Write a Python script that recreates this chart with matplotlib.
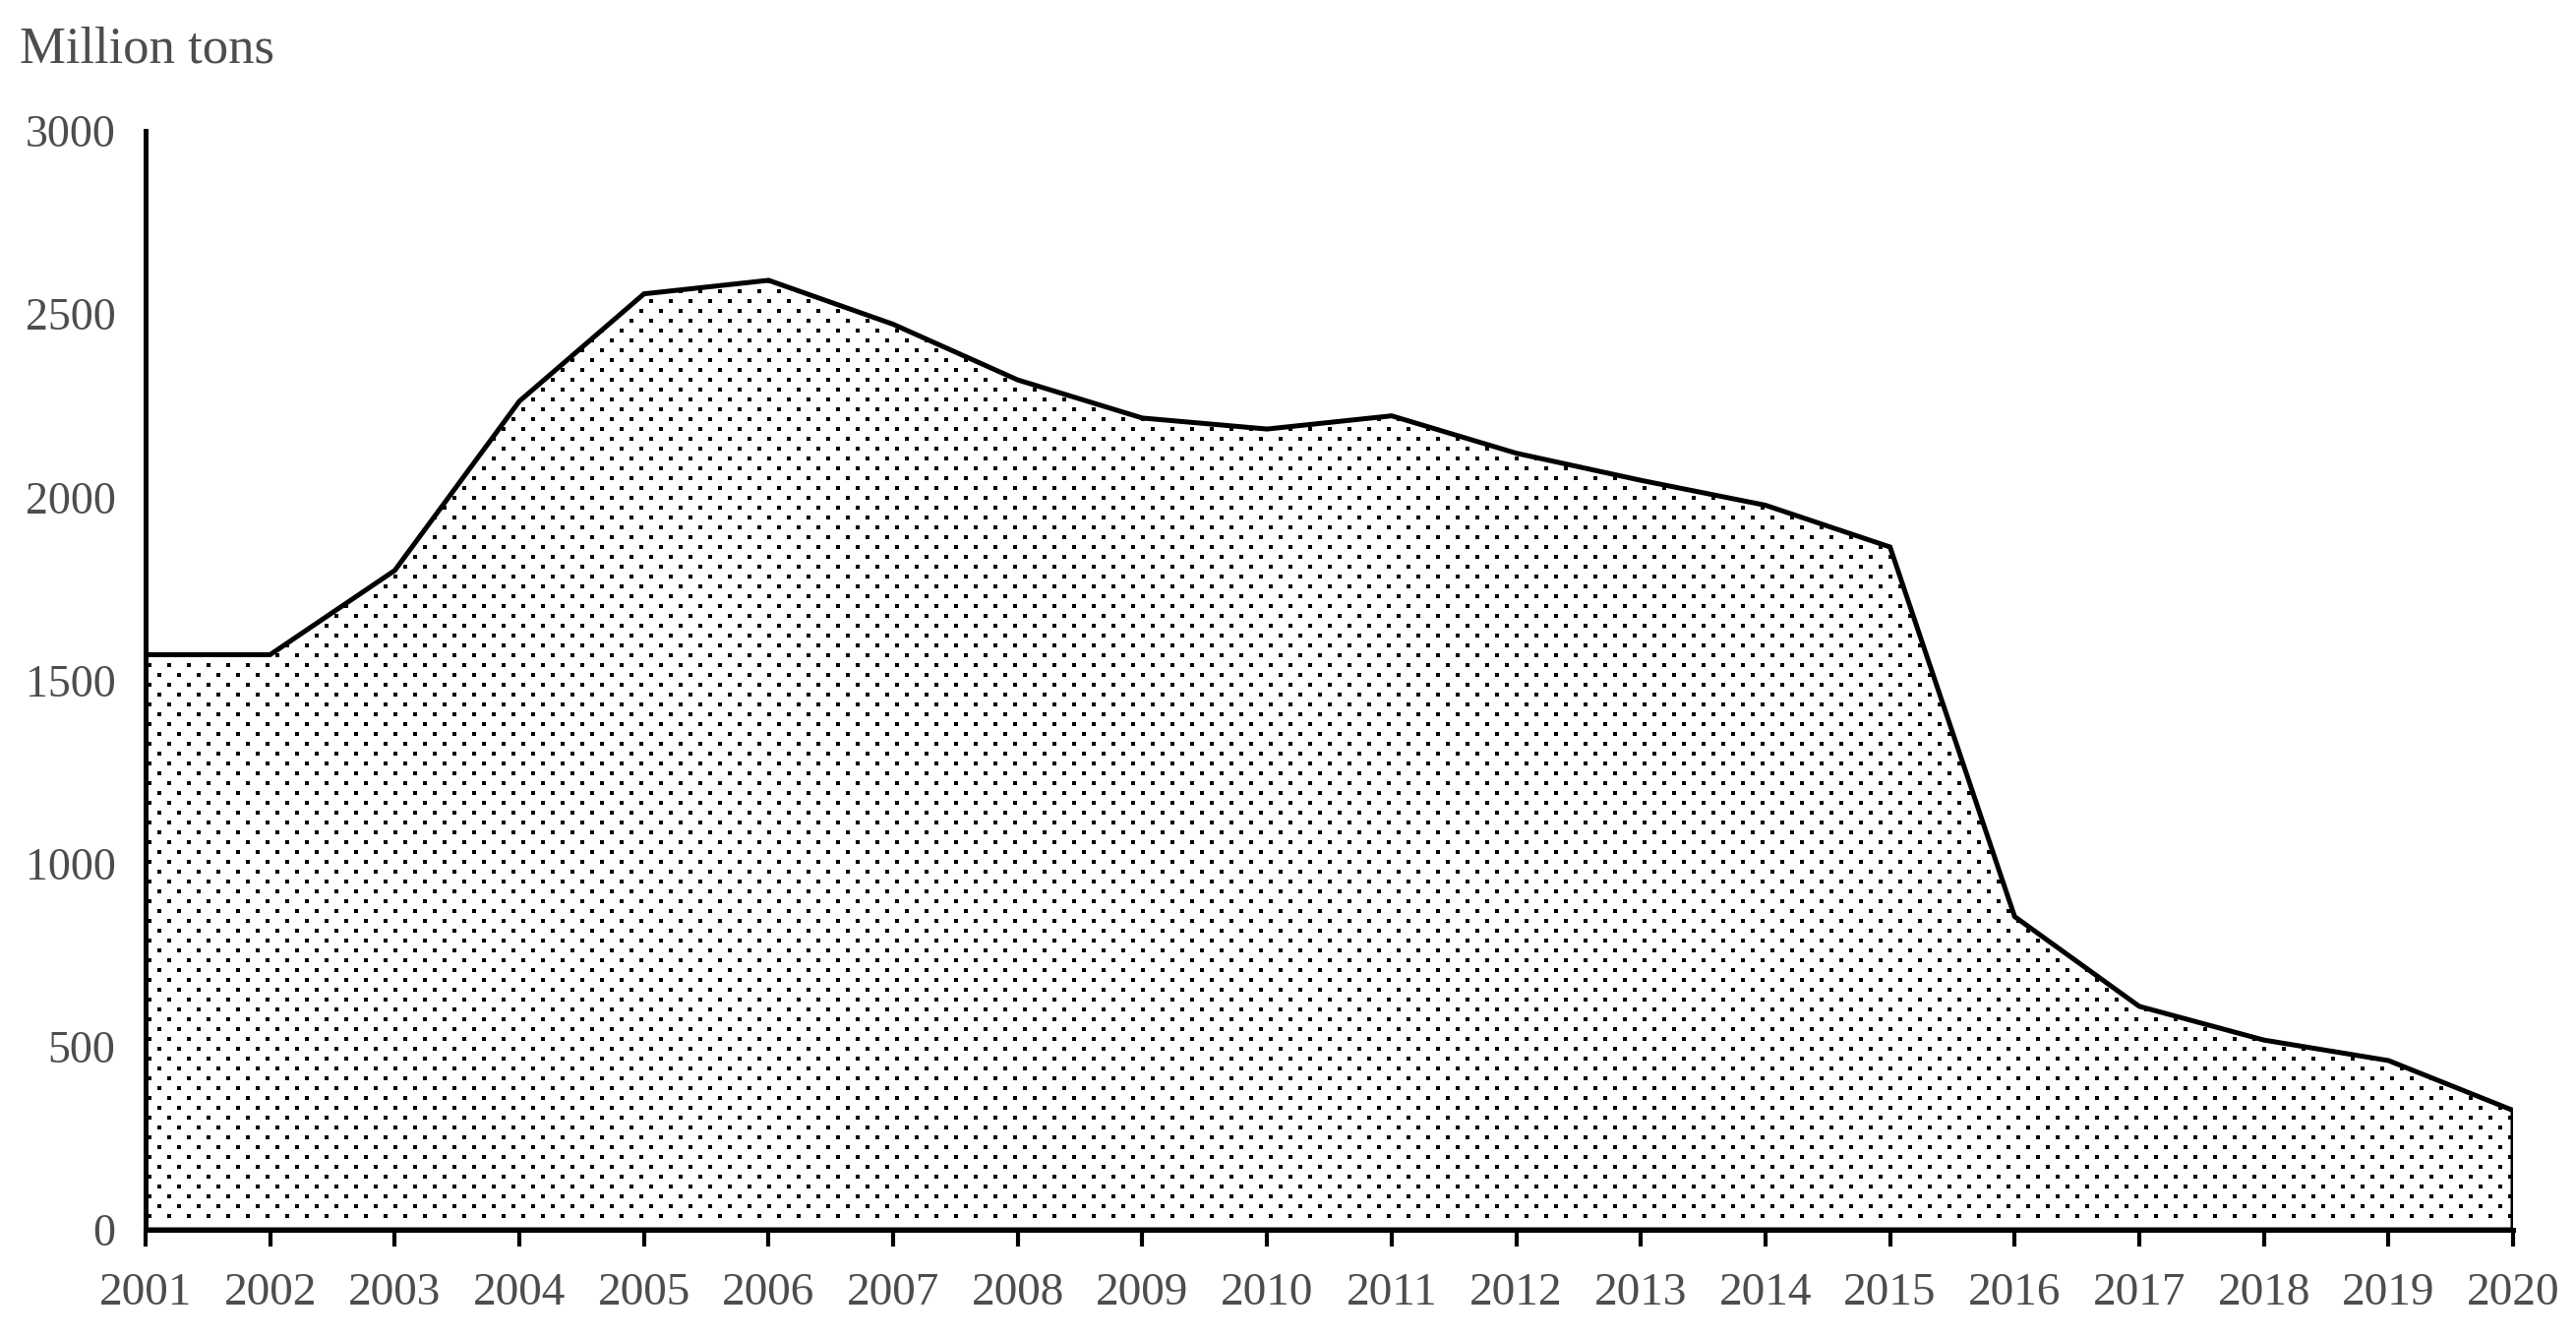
import numpy as np
import matplotlib.pyplot as plt
from matplotlib.transforms import IdentityTransform

years = list(range(2001, 2021))
output = [1570, 1570, 1800, 2262, 2555, 2592, 2472, 2320, 2216, 2186,
          2222, 2120, 2046, 1978, 1864, 855, 610, 518, 462, 326]
yticks = [0, 500, 1000, 1500, 2000, 2500, 3000]

W, H = 2619, 1361
DPI = 100
TXT = "#4d4d4d"

plt.rcParams['font.family'] = ['Liberation Serif', 'DejaVu Serif']

fig = plt.figure(figsize=(W / DPI, H / DPI), dpi=DPI)
# axes box in pixels: left 148, right 2555, top 133, bottom 1250
ax = fig.add_axes([148 / W, (H - 1250) / H, (2555 - 148) / W, (1250 - 133) / H])

xs = [years[0]] + years + [years[-1]]
ys = [0] + output + [0]
poly = ax.fill(xs, ys, facecolor="white", edgecolor="black", lw=3.6,
               joinstyle="miter", zorder=2)[0]

# dotted texture: staggered grid in pixel space, clipped to the filled area
px, py = [], []
for j, yy in enumerate(range(H - 1250 + 14, H - 133, 10)):
    off = 0 if j % 2 == 0 else 10
    for xx in range(152 + off, 2560, 20):
        px.append(xx)
        py.append(yy)
dots = ax.scatter(px, py, s=7.5, marker="s", c="black", linewidths=0,
                  transform=IdentityTransform(), zorder=3)
dots.set_clip_path(poly)

ax.set_xlim(years[0], years[-1])
ax.set_ylim(0, 3000)
ax.set_xticks(years)
ax.set_xticklabels([str(y) for y in years])
ax.set_yticks(yticks)
ax.set_yticklabels([str(v) for v in yticks])

for s in ["top", "right"]:
    ax.spines[s].set_visible(False)
for s in ["left", "bottom"]:
    ax.spines[s].set_linewidth(3.6)
    ax.spines[s].set_zorder(5)

ax.tick_params(axis="x", direction="out", length=12, width=3, pad=19,
               labelsize=34, labelcolor=TXT)
ax.tick_params(axis="y", length=0, pad=22, labelsize=33, labelcolor=TXT)

fig.text(20 / W, 1 - 63 / H, "Million tons", fontsize=38, color=TXT,
         ha="left", va="baseline")

fig.savefig("out.png", dpi=DPI)
